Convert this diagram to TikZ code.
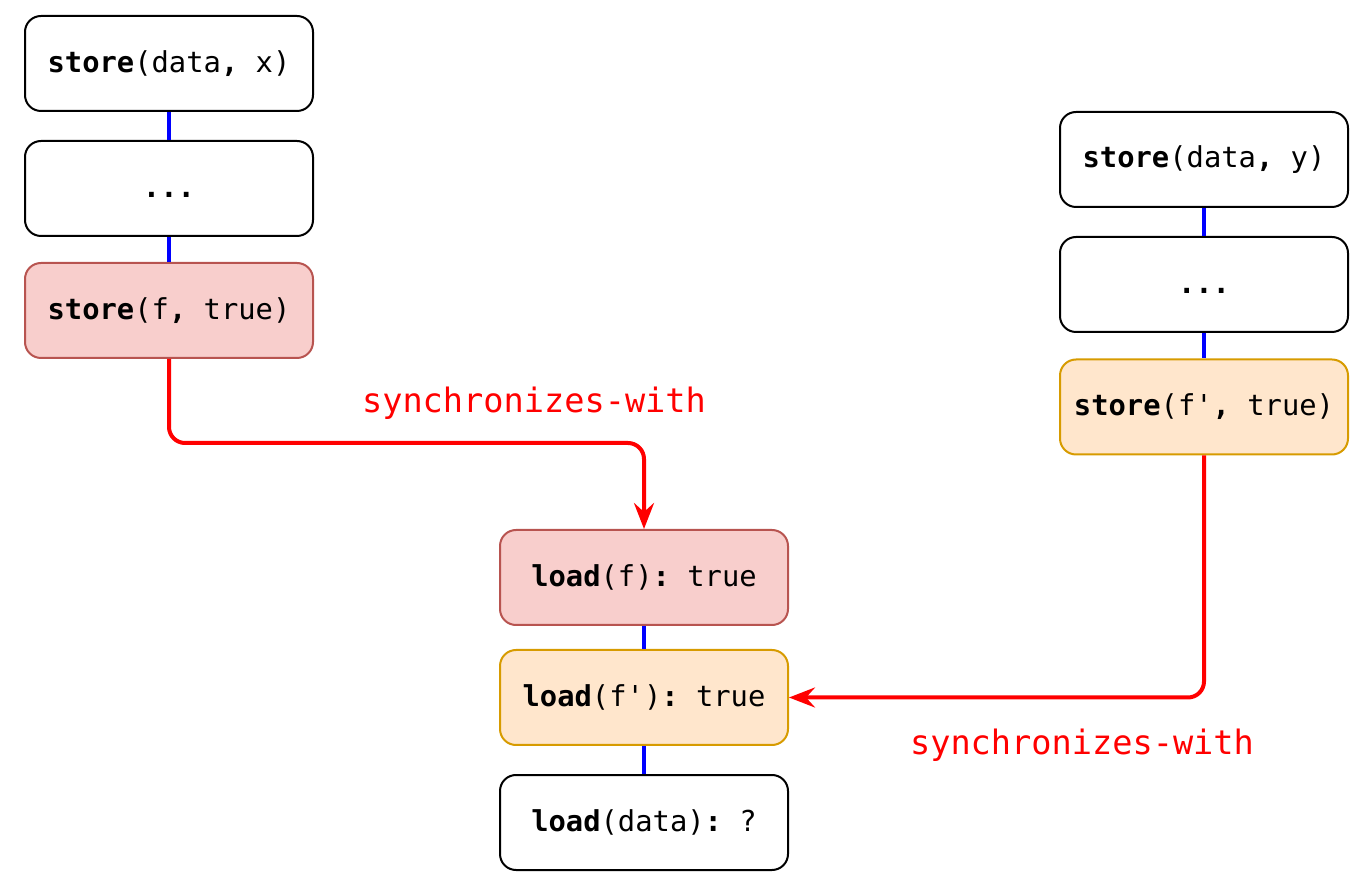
\documentclass[tikz,border=0pt]{standalone}
\usepackage{fontspec}
\setmainfont{DejaVu Sans Mono}
\setmonofont{DejaVu Sans Mono}
\usetikzlibrary{arrows.meta}
\definecolor{pinkfill}{HTML}{F8CECC}
\definecolor{pinkline}{HTML}{B85450}
\definecolor{orangefill}{HTML}{FFE6CC}
\definecolor{orangeline}{HTML}{D79B00}
\definecolor{syncred}{HTML}{FF0000}
\definecolor{seqblue}{HTML}{0000FF}
\tikzset{
  opbox/.style={draw=black, fill=white, line width=1pt, rounded corners=8pt,
    minimum width=144pt, minimum height=47.5pt, inner sep=0pt,
    font=\ttfamily\fontsize{14.4}{17}\selectfont},
  pinkbox/.style={opbox, draw=pinkline, fill=pinkfill},
  orangebox/.style={opbox, draw=orangeline, fill=orangefill},
  dotstext/.style={font=\ttfamily\bfseries\fontsize{14.4}{17}\selectfont, inner sep=0pt},
  seqline/.style={draw=seqblue, line width=2pt},
  syncarrow/.style={draw=syncred, line width=2pt, rounded corners=8pt,
    -{Stealth[length=13pt, width=10pt, inset=4.5pt]}},
  synclabel/.style={text=syncred, font=\ttfamily\fontsize{16.8}{20}\selectfont, inner sep=0pt}
}
\begin{document}
\begin{tikzpicture}[x=0.5pt, y=-0.5pt]
\useasboundingbox (0,0) rectangle (1366,892);
% left column
\node[opbox] (a1) at (169,63.5) {\textbf{store}(data\textbf{,} x)};
\node[opbox] (a2) at (169,188.5) {};
\node[dotstext] (a2t) at (169,195) {...};
\node[pinkbox] (a3) at (169,310.5) {\textbf{store}(f\textbf{,} true)};
% right column
\node[opbox] (b1) at (1204,159.5) {\textbf{store}(data\textbf{,} y)};
\node[opbox] (b2) at (1204,284.5) {};
\node[dotstext] (b2t) at (1204,291) {...};
\node[orangebox] (b3) at (1204,407) {\textbf{store}(f'\textbf{,} true)};
% middle column
\node[pinkbox] (c1) at (644,577.5) {\textbf{load}(f)\textbf{:} true};
\node[orangebox] (c2) at (644,697.5) {\textbf{load}(f')\textbf{:} true};
\node[opbox] (c3) at (644,822.5) {\textbf{load}(data)\textbf{:} ?};
% sequenced-before lines
\draw[seqline] (a1) -- (a2);
\draw[seqline] (a2) -- (a3);
\draw[seqline] (b1) -- (b2);
\draw[seqline] (b2) -- (b3);
\draw[seqline] (c1) -- (c2);
\draw[seqline] (c2) -- (c3);
% synchronizes-with arrows
\coordinate (turn1) at (169,443);
\draw[syncarrow] (a3.south) -- (turn1) -| (c1.north);
\draw[syncarrow] (b3.south) |- (c2.east);
\node[synclabel] (l1) at (534,403) {synchronizes-with};
\node[synclabel] (l2) at (1082,745) {synchronizes-with};
\end{tikzpicture}
\end{document}
